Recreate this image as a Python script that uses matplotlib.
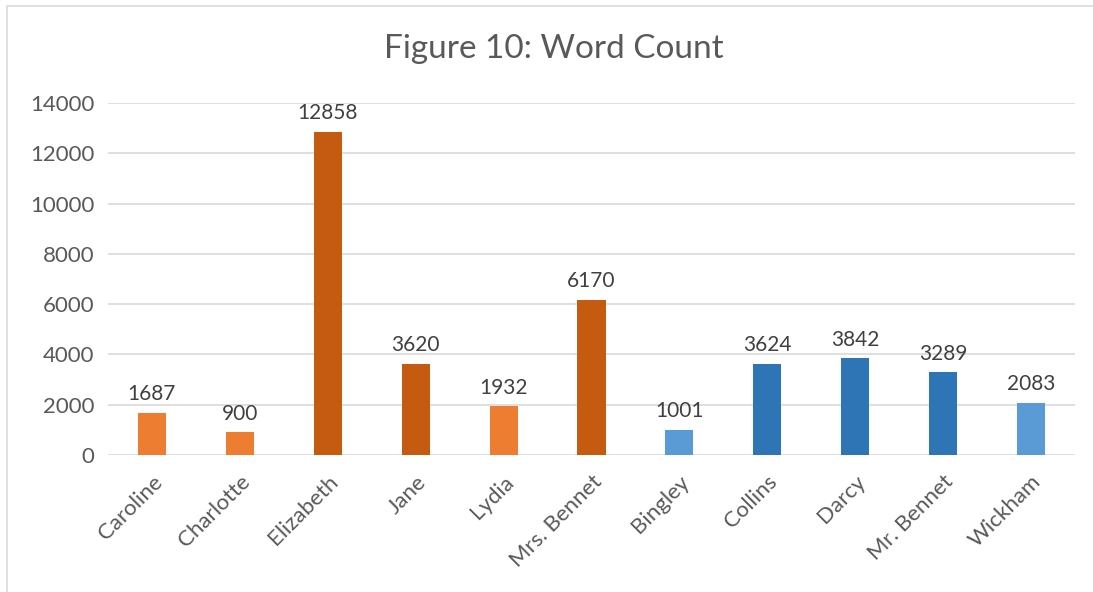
import matplotlib.pyplot as plt
from matplotlib.patches import Rectangle

# word counts per character
names = ['Caroline', 'Charlotte', 'Elizabeth', 'Jane', 'Lydia', 'Mrs. Bennet',
         'Bingley', 'Collins', 'Darcy', 'Mr. Bennet', 'Wickham']
counts = [1687, 900, 12858, 3620, 1932, 6170, 1001, 3624, 3842, 3289, 2083]
colors = ['#ED7D31', '#ED7D31', '#C55A11', '#C55A11', '#ED7D31', '#C55A11',
          '#5B9BD5', '#2E75B6', '#2E75B6', '#2E75B6', '#5B9BD5']
yticks = [0, 2000, 4000, 6000, 8000, 10000, 12000, 14000]

plt.rcParams['font.family'] = ['Lato', 'DejaVu Sans']
txt = '#595959'

fig = plt.figure(figsize=(10.93, 5.92), dpi=100)
fig.patches.append(Rectangle((0.0065, -0.05), 1.05, 1.04, transform=fig.transFigure,
                             fill=False, edgecolor='#D9D9D9', linewidth=1.2))
ax = fig.add_axes([0.0988, 0.2314, 0.8847, 0.5946])

x = range(len(names))
bars = ax.bar(x, counts, width=0.32, color=colors, zorder=3)
for xi, v in zip(x, counts):
    ax.text(xi, v + 350, str(v), ha='center', va='bottom', fontsize=15, color='#404040')

ax.set_xlim(-0.5, len(names) - 0.5)
ax.set_ylim(0, 14000)
ax.set_yticks(yticks)
ax.set_yticklabels([str(t) for t in yticks], fontsize=16, color=txt)
ax.set_xticks(list(x))
ax.set_xticklabels(names, rotation=45, ha='right', rotation_mode='anchor', fontsize=16, color=txt)
ax.tick_params(length=0, pad=10)
ax.tick_params(axis='x', pad=12)
ax.grid(axis='y', color='#D9D9D9', linewidth=1.2, zorder=0)
for s in ax.spines.values():
    s.set_visible(False)

fig.text(0.507, 0.918, 'Figure 10: Word Count', ha='center', va='center', fontsize=24, color=txt)

fig.savefig('out.png', dpi=100)
